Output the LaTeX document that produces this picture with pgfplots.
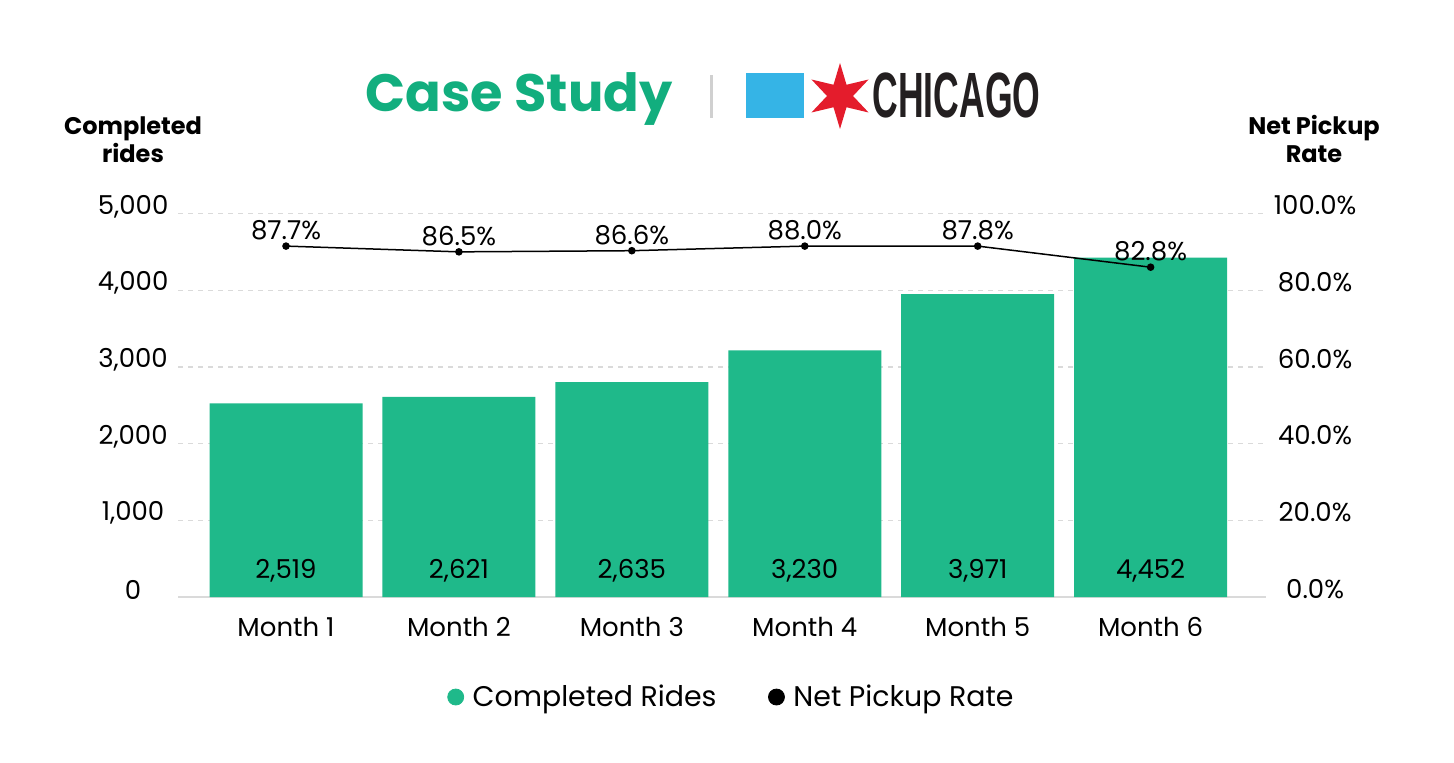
\documentclass[border=0pt]{standalone}
\usepackage{fontspec}
\setmainfont{Poppins}
\usepackage{pgfplots}
\pgfplotsset{compat=1.18}
\usepackage{pgfplotstable}
\usepackage{graphicx}

\definecolor{bargreen}{HTML}{1FB98A}
\definecolor{titlegreen}{HTML}{12AE7E}
\definecolor{gridgray}{HTML}{DADADA}
\definecolor{sepgray}{HTML}{D0D0D0}
\definecolor{chiblue}{HTML}{35B4E6}
\definecolor{chired}{HTML}{E41C2C}
\definecolor{chidark}{HTML}{231F20}

\newcommand\ticksize{\fontsize{13}{15}\selectfont}

\pgfplotstableread{
x rides lab ylab
0 2525 2,519 339
1 2610 2,621 339
2 2800 2,635 339
3 3215 3,230 339
4 3950 3,971 339
5 4425 4,452 339
}\ridesdata

\pgfplotstableread{
x rate lab
0 91.5 87.7
1 90.0 86.5
2 90.3 86.6
3 91.5 88.0
4 91.5 87.8
5 86.0 82.8
}\ratedata

\begin{document}
\begin{tikzpicture}
\path (0pt,0pt) rectangle (727pt,381pt);
% header
\node[anchor=base, inner sep=0, font=\fontsize{26.3}{30}\selectfont\bfseries, text=titlegreen] at (259.5pt,325pt) {Case Study};
\draw[sepgray, line width=1.5pt] (355.5pt,322pt) -- (355.5pt,343.5pt);
\fill[chiblue] (373pt,322pt) rectangle (402pt,344.5pt);
\fill[chired, shift={(420pt,333pt)}] (90:16.5pt) -- (120:6.5pt) -- (150:16.5pt) -- (180:6.5pt) -- (210:16.5pt) -- (240:6.5pt) -- (270:16.5pt) -- (300:6.5pt) -- (330:16.5pt) -- (0:6.5pt) -- (30:16.5pt) -- (60:6.5pt) -- cycle;
\node[anchor=base west, inner sep=0, text=chidark, font=\fontspec{Liberation Sans}\bfseries\fontsize{32}{34}\selectfont] at (436pt,322pt) {\scalebox{0.556}[1]{CHICAGO}};
% axis titles
\node[anchor=base, inner sep=0, font=\fontsize{12}{14}\selectfont\bfseries] at (66.5pt,313.5pt) {Completed};
\node[anchor=base, inner sep=0, font=\fontsize{12}{14}\selectfont\bfseries] at (66.5pt,299.5pt) {rides};
\node[anchor=base, inner sep=0, font=\fontsize{12}{14}\selectfont\bfseries] at (657pt,313.5pt) {Net Pickup};
\node[anchor=base, inner sep=0, font=\fontsize{12}{14}\selectfont\bfseries] at (657pt,299.5pt) {Rate};

\begin{axis}[
  at={(143pt,82.5pt)}, anchor=origin, scale only axis,
  width=544pt, height=191.75pt,
  xmin=-0.624, xmax=5.668, ymin=0, ymax=5000,
  enlargelimits=false, clip=false,
  axis x line*=bottom, axis y line*=left,
  x axis line style={draw=gridgray, line width=0.8pt, -},
  y axis line style={draw=none},
  major tick length=0,
  xtick={0,1,2,3,4,5},
  xticklabels={Month 1,Month 2,Month 3,Month 4,Month 5,Month 6},
  ytick={0,1000,2000,3000,4000,5000},
  yticklabels={0,{1,000},{2,000},{3,000},{4,000},{5,000}},
  ymajorgrids,
  major grid style={gridgray, dash pattern=on 2.5pt off 2.5pt, line width=0.6pt},
  tick label style={font=\ticksize, text=black},
  xticklabel style={anchor=center, yshift=-15pt},
  yticklabel style={anchor=center, xshift=-22.5pt, yshift=3.5pt},
]
\addplot[ybar, bar width=76.5pt, fill=bargreen, draw=none] table[x=x,y=rides]{\ridesdata};
\addplot[only marks, mark=none, nodes near coords, point meta=explicit symbolic,
  nodes near coords style={anchor=center, font=\ticksize, text=black}]
  table[x=x,y=ylab,meta=lab]{\ridesdata};
\end{axis}

\begin{axis}[
  at={(143pt,82.5pt)}, anchor=origin, scale only axis,
  width=544pt, height=191.75pt,
  xmin=-0.624, xmax=5.668, ymin=0, ymax=100,
  enlargelimits=false, clip=false,
  axis x line=none, axis y line*=right,
  y axis line style={draw=none},
  major tick length=0,
  ytick={0,20,40,60,80,100},
  yticklabels={0.0\%,20.0\%,40.0\%,60.0\%,80.0\%,100.0\%},
  yticklabel style={anchor=center, xshift=24.5pt, yshift=4pt, font=\ticksize, text=black},
  legend style={at={(0.5097,-0.2608)}, anchor=center, draw=none, fill=none,
    font=\fontsize{14.2}{17}\selectfont, legend columns=2,
    /tikz/every even column/.append style={column sep=24pt},
    /tikz/every odd column/.append style={column sep=2.5pt}},
  legend cell align=left,
]
\addplot[forget plot, black, line width=0.75pt, mark=*, mark size=1.5pt,
  nodes near coords={\pgfplotspointmeta\%}, point meta=explicit symbolic,
  nodes near coords style={anchor=south, font=\ticksize, text=black, inner sep=1pt, yshift=1.5pt}]
  table[x=x,y=rate,meta=lab]{\ratedata};
\addlegendimage{only marks, mark=*, mark size=4pt, color=bargreen}
\addlegendentry{Completed Rides}
\addlegendimage{only marks, mark=*, mark size=4pt, color=black}
\addlegendentry{Net Pickup Rate}
\end{axis}
\end{tikzpicture}
\end{document}
